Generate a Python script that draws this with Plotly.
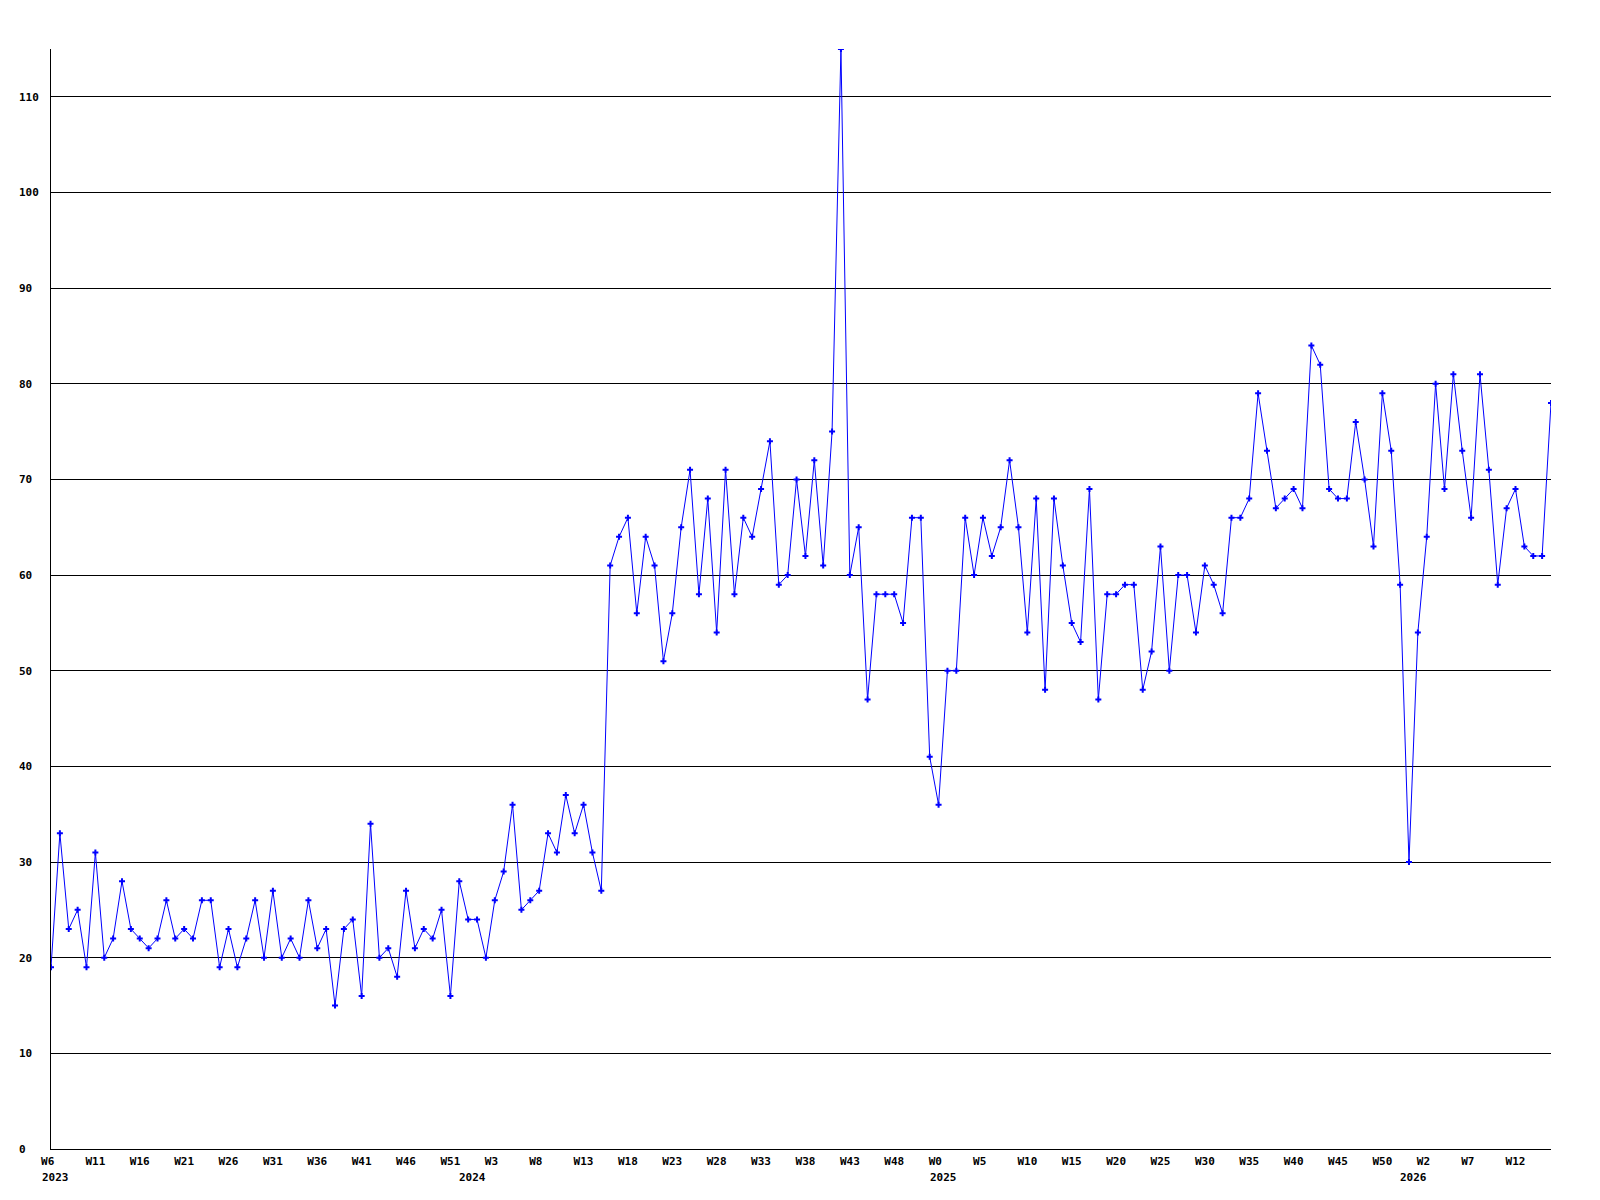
import plotly.graph_objects as go

# Weekly values, 2023-W6 .. 2026-W16
values = [
    19, 33, 23, 25, 19, 31, 20, 22, 28, 23,
    22, 21, 22, 26, 22, 23, 22, 26, 26, 19,
    23, 19, 22, 26, 20, 27, 20, 22, 20, 26,
    21, 23, 15, 23, 24, 16, 34, 20, 21, 18,
    27, 21, 23, 22, 25, 16, 28, 24, 24, 20,
    26, 29, 36, 25, 26, 27, 33, 31, 37, 33,
    36, 31, 27, 61, 64, 66, 56, 64, 61, 51,
    56, 65, 71, 58, 68, 54, 71, 58, 66, 64,
    69, 74, 59, 60, 70, 62, 72, 61, 75, 115,
    60, 65, 47, 58, 58, 58, 55, 66, 66, 41,
    36, 50, 50, 66, 60, 66, 62, 65, 72, 65,
    54, 68, 48, 68, 61, 55, 53, 69, 47, 58,
    58, 59, 59, 48, 52, 63, 50, 60, 60, 54,
    61, 59, 56, 66, 66, 68, 79, 73, 67, 68,
    69, 67, 84, 82, 69, 68, 68, 76, 70, 63,
    79, 73, 59, 30, 54, 64, 80, 69, 81, 73,
    66, 81, 71, 59, 67, 69, 63, 62, 62, 78,
]

# Week categories per year
years = [2023, 2024, 2025, 2026]
first_week = [6, 0, 0, 0]
last_week = [52, 52, 52, 16]

week_labels = []
week_years = []
for yr, fw, lw in zip(years, first_week, last_week):
    for w in range(fw, lw + 1):
        week_labels.append(f"W{w}")
        week_years.append(yr)

x = list(range(len(values)))
tick_every = 5
tickvals = x[::tick_every]
NB = "\u00a0"
ticktext = [week_labels[i].ljust(3, NB) for i in tickvals]

y_ticks = list(range(0, 111, 10))
y_ticktext = [str(v).ljust(3, NB) for v in y_ticks]

year_start = [week_years.index(yr) for yr in years]

FONT = dict(family="DejaVu Sans Mono", size=11, color="black", weight="bold")

fig = go.Figure()
fig.add_trace(go.Scatter(
    x=x, y=values, mode="lines+markers",
    line=dict(color="#0000ff", width=1),
    marker=dict(symbol="cross", size=5, color="#0000ff", line=dict(width=0)),
    showlegend=False, hoverinfo="skip",
))

for yr, idx in zip(years, year_start):
    fig.add_annotation(
        x=idx, y=0, xref="x", yref="paper", text=str(yr),
        showarrow=False, xanchor="left", yanchor="middle",
        xshift=-11, yshift=-28, font=FONT,
    )

fig.update_layout(
    width=1600, height=1200,
    margin=dict(l=51, r=49, t=49, b=51),
    paper_bgcolor="white", plot_bgcolor="white",
    font=FONT,
)
fig.update_xaxes(
    range=[0, len(values) - 1], tickmode="array", tickvals=tickvals, ticktext=ticktext,
    showgrid=False, zeroline=False, showline=True, linecolor="black", linewidth=1,
    ticks="", tickfont=FONT, ticklabelstandoff=2,
)
fig.update_yaxes(
    range=[0, 115], tickmode="array", tickvals=y_ticks, ticktext=y_ticktext,
    showgrid=True, gridcolor="black", gridwidth=1, zeroline=False,
    showline=True, linecolor="black", linewidth=1,
    ticks="", tickfont=FONT, ticklabelstandoff=9,
)

fig.write_html("out.html", config={"displayModeBar": False},
               post_script="document.body.style.margin='0';")
